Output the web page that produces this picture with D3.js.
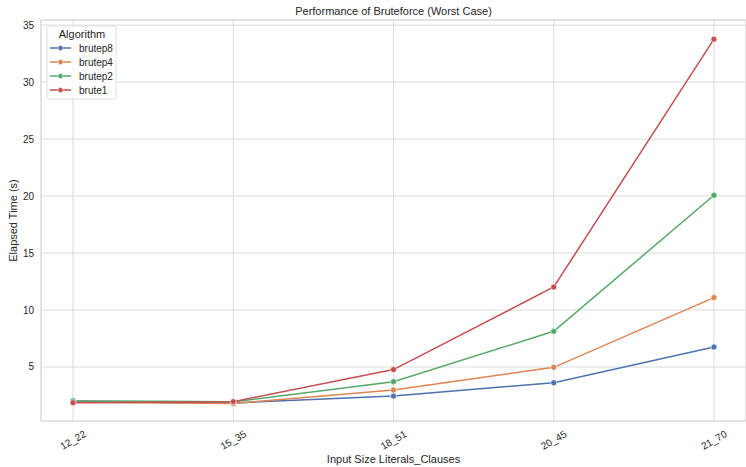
<!DOCTYPE html>
<html>
<head>
<meta charset="utf-8">
<script src="https://cdn.jsdelivr.net/npm/d3@7"></script>
<style>
  body { margin: 0; background: #fff; }
  text { font-family: "Liberation Sans", Arial, sans-serif; fill: #262626; }
</style>
</head>
<body>
<div id="chart"></div>
<script>
const categories = ["12_22", "15_35", "18_51", "20_45", "21_70"];
const brutep8 = [1.95, 1.85, 2.45, 3.62, 6.75];
const brutep4 = [1.9, 1.8, 2.98, 4.97, 11.09];
const brutep2 = [2.03, 1.95, 3.71, 8.13, 20.07];
const brute1 = [1.87, 1.96, 4.77, 12.02, 33.77];
const yTicks = [5, 10, 15, 20, 25, 30, 35];

const series = [
    { name: "brutep8", values: brutep8, color: "#4c72b0" },
    { name: "brutep4", values: brutep4, color: "#dd8452" },
    { name: "brutep2", values: brutep2, color: "#55a868" },
    { name: "brute1", values: brute1, color: "#c44e52" }
];

const width = 746, height = 467;
const margin = { top: 20, right: 0, bottom: 46, left: 41 };
const innerW = width - margin.left - margin.right;
const innerH = height - margin.top - margin.bottom;

const svg = d3.select("#chart")
    .append("svg")
    .attr("width", width)
    .attr("height", height);

const g = svg.append("g")
    .attr("transform", `translate(${margin.left},${margin.top})`);

// categorical axis with matplotlib-like margins
const x = d3.scaleLinear()
    .domain([-0.2, categories.length - 1 + 0.2])
    .range([0, innerW]);

const y = d3.scaleLinear()
    .domain([0.26, 35.45])
    .range([innerH, 0]);

// grid
g.selectAll(".ygrid")
    .data(yTicks)
    .enter()
    .append("line")
    .attr("x1", 0)
    .attr("x2", innerW)
    .attr("y1", d => y(d))
    .attr("y2", d => y(d))
    .attr("stroke", "#dcdcdc")
    .attr("stroke-width", 1);

g.selectAll(".xgrid")
    .data(categories)
    .enter()
    .append("line")
    .attr("x1", (d, i) => x(i))
    .attr("x2", (d, i) => x(i))
    .attr("y1", 0)
    .attr("y2", innerH)
    .attr("stroke", "#dcdcdc")
    .attr("stroke-width", 1);

// frame
g.append("rect")
    .attr("width", innerW)
    .attr("height", innerH)
    .attr("fill", "none")
    .attr("stroke", "#d0d0d0")
    .attr("stroke-width", 1.2);

// y tick labels
g.selectAll(".ylab")
    .data(yTicks)
    .enter()
    .append("text")
    .attr("x", -7)
    .attr("y", d => y(d))
    .attr("dy", "0.35em")
    .attr("text-anchor", "end")
    .style("font-size", "10px")
    .text(d => d);

// x tick labels, rotated 30deg
g.selectAll(".xlab")
    .data(categories)
    .enter()
    .append("text")
    .attr("transform", (d, i) => `translate(${x(i)},${innerH + 19}) rotate(-30)`)
    .attr("text-anchor", "middle")
    .attr("dy", "0.35em")
    .style("font-size", "10px")
    .text(d => d);

// lines
const line = d3.line()
    .x((d, i) => x(i))
    .y(d => y(d));

series.forEach(s => {
    g.append("path")
        .datum(s.values)
        .attr("d", line)
        .attr("fill", "none")
        .attr("stroke", s.color)
        .attr("stroke-width", 1.5);

    g.selectAll(null)
        .data(s.values)
        .enter()
        .append("circle")
        .attr("cx", (d, i) => x(i))
        .attr("cy", d => y(d))
        .attr("r", 3)
        .attr("fill", s.color)
        .attr("stroke", "#fff")
        .attr("stroke-width", 0.6);
});

// titles
svg.append("text")
    .attr("x", margin.left + innerW / 2)
    .attr("y", 15)
    .attr("text-anchor", "middle")
    .style("font-size", "11px")
    .text("Performance of Bruteforce (Worst Case)");

svg.append("text")
    .attr("x", margin.left + innerW / 2)
    .attr("y", 463)
    .attr("text-anchor", "middle")
    .style("font-size", "11px")
    .text("Input Size Literals_Clauses");

svg.append("text")
    .attr("transform", `translate(17,${margin.top + innerH / 2}) rotate(-90)`)
    .attr("text-anchor", "middle")
    .style("font-size", "11px")
    .text("Elapsed Time (s)");

// legend
const legend = svg.append("g")
    .attr("transform", "translate(47,26)");

legend.append("rect")
    .attr("width", 69)
    .attr("height", 73)
    .attr("rx", 2)
    .attr("fill", "#fff")
    .attr("fill-opacity", 0.8)
    .attr("stroke", "#e0e0e0");

legend.append("text")
    .attr("x", 35)
    .attr("y", 12)
    .attr("text-anchor", "middle")
    .style("font-size", "11px")
    .text("Algorithm");

const item = legend.selectAll(".item")
    .data(series)
    .enter()
    .append("g")
    .attr("transform", (d, i) => `translate(0,${22 + i * 14})`);

item.append("line")
    .attr("x1", 3)
    .attr("x2", 24)
    .attr("stroke", d => d.color)
    .attr("stroke-width", 1.5);

item.append("circle")
    .attr("cx", 13.5)
    .attr("r", 2.6)
    .attr("fill", d => d.color)
    .attr("stroke", "#fff")
    .attr("stroke-width", 0.5);

item.append("text")
    .attr("x", 32)
    .attr("dy", "0.35em")
    .style("font-size", "10px")
    .text(d => d.name);
</script>
</body>
</html>
